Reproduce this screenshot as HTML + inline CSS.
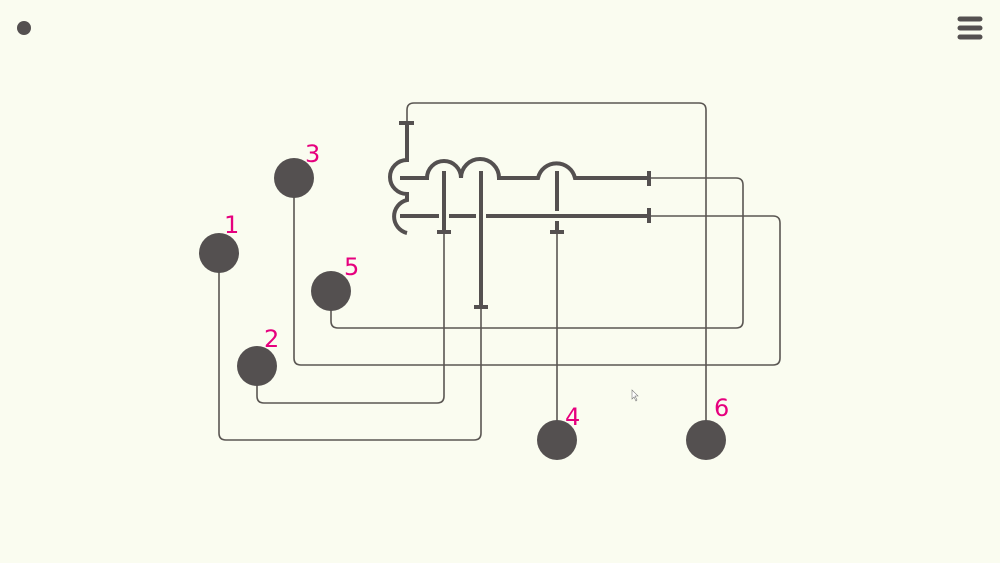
<!DOCTYPE html>
<html><head><style>
html,body{margin:0;padding:0;background:#fafcf0;}
svg{display:block;}
text{font-family:"DejaVu Sans","Liberation Sans",sans-serif;font-size:24px;fill:#e6007e;}
</style></head><body>
<svg width="1000" height="563" viewBox="0 0 1000 563">
<rect width="1000" height="563" fill="#fafcf0"/>
<circle cx="24" cy="28" r="7" fill="#545050"/>
<g stroke="#545050" stroke-width="5" stroke-linecap="round">
<line x1="960" y1="19" x2="980" y2="19"/><line x1="960" y1="28" x2="980" y2="28"/><line x1="960" y1="37" x2="980" y2="37"/>
</g>
<g fill="none" stroke="#5a5652" stroke-width="1.6">
<path d="M407,123 V110 Q407,103 414,103 H699 Q706,103 706,110 V440"/>
<path d="M649,178 H736 Q743,178 743,185 V321 Q743,328 736,328 H338 Q331,328 331,321 V291"/>
<path d="M649,216 H773 Q780,216 780,223 V358 Q780,365 773,365 H301 Q294,365 294,358 V178"/>
<path d="M444,232 V396 Q444,403 437,403 H264 Q257,403 257,396 V366"/>
<path d="M481,307 V433 Q481,440 474,440 H226 Q219,440 219,433 V253"/>
<path d="M557,232 V440"/>
</g>
<g fill="#545050">
<circle cx="219" cy="253" r="20"/><circle cx="257" cy="366" r="20"/><circle cx="294" cy="178" r="20"/>
<circle cx="331" cy="291" r="20"/><circle cx="557" cy="440" r="20"/><circle cx="706" cy="440" r="20"/>
</g>
<g fill="none" stroke="#545050" stroke-width="4">
<path d="M407,123 V160 A17,17 0 0 0 407,194 V200 A17,17 0 0 0 407,233"/>
<line x1="399" y1="123" x2="414" y2="123"/>
<path d="M400,178 H427 A17,17 0 0 1 461,178 A19,19 0 0 1 499,178 H538 A19,19 0 0 1 575,178 H649"/>
<line x1="649" y1="171" x2="649" y2="186"/>
<path d="M400,216 H439 M449,216 H476 M486,216 H649"/>
<line x1="649" y1="208" x2="649" y2="223"/>
<line x1="444" y1="171" x2="444" y2="232"/><line x1="437" y1="232" x2="451" y2="232"/>
<line x1="481" y1="171" x2="481" y2="307"/><line x1="474" y1="307" x2="488" y2="307"/>
<path d="M557,171 V211 M557,221 V232"/><line x1="550" y1="232" x2="564" y2="232"/>
</g>
<text x="224" y="233">1</text>
<text x="264" y="347">2</text>
<text x="305" y="162">3</text>
<text x="565" y="425">4</text>
<text x="344" y="275">5</text>
<text x="714" y="416">6</text>
<path d="M632,390 l0,9 l2,-2 l2,4 l1,-1 l-2,-4 l3,0 z" fill="#fff" stroke="#777" stroke-width="0.6"/>
</svg>
</body></html>
